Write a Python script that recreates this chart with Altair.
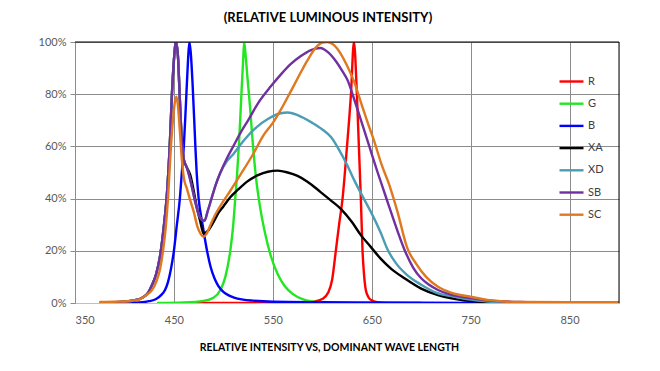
import altair as alt
import pandas as pd

series_names = ["R", "G", "B", "XA", "XD", "SB", "SC"]
series_colors = ["#FF0000", "#22E622", "#0000FF", "#000000", "#4A9DB5", "#7030A0", "#E07820"]
series_widths = [2.4, 2.4, 2.4, 2.6, 2.8, 3.0, 3.0]

x_ticks = [350, 450, 550, 650, 750, 850]
y_ticks = [0, 20, 40, 60, 80, 100]

r_wl = [470, 580, 591, 600, 606, 610, 613.7, 617, 620.5, 625, 629, 632, 635, 637, 639, 640.7, 642, 644, 647, 650, 656, 665, 700]
r_val = [0, 0.1, 0.5, 1.5, 4, 9, 20, 30, 40, 60, 80, 100, 80, 60, 40, 20, 12, 5, 2, 1, 0.3, 0, 0]

g_wl = [433, 460, 480, 490, 497, 502, 507, 510, 512, 514, 515.6, 517, 518.5, 520, 521, 522.5, 524, 527, 530, 533, 537, 542, 548, 555, 562, 570, 580, 590, 600, 620]
g_val = [0, 0.2, 0.8, 2, 5, 10, 20, 30, 40, 50, 60, 70, 82, 93, 100, 95, 88, 75, 60, 48, 37, 27, 18, 11, 6.5, 3.5, 1.5, 0.6, 0.2, 0]

b_wl = [400, 415, 425, 432, 437, 441, 444, 447, 450, 453, 456, 458, 460, 462, 464, 465.6, 467, 469, 471.7, 473, 475, 479, 483.5, 487, 491, 495, 500, 505, 510, 520, 530, 550, 600, 700, 800]
b_val = [0, 0.2, 0.7, 1.5, 3, 5, 8, 13, 20, 30, 40, 50, 60, 75, 91, 100, 96, 83, 60, 50, 40, 30, 20, 14, 9.5, 6.5, 4.3, 3, 2.2, 1.3, 0.9, 0.5, 0.3, 0.1, 0]

xa_wl = [375, 390, 400, 410, 418, 424, 428, 432, 436, 440, 443, 446, 448, 450, 452, 454, 456, 458, 460, 463, 466.6, 470, 473, 476.8, 480, 484, 490, 495, 500, 507, 515, 524, 535, 545, 555, 565, 575, 585, 598, 608, 619, 630, 639, 649, 659, 670, 683, 700, 717, 735, 750, 770, 800, 900]
xa_val = [0.2, 0.3, 0.5, 1, 2, 4, 7, 11, 18, 30, 42, 62, 80, 93, 100, 95, 78, 62, 55, 52, 49, 43, 37, 31, 26.6, 27.5, 31, 34.5, 37, 40.5, 43.5, 46.5, 49, 50.3, 50.7, 50, 48.7, 46.5, 42.6, 39.5, 36, 31, 26, 21.5, 17, 13, 9.5, 5.5, 3, 1.5, 0.7, 0.3, 0.1, 0]

xd_wl = [375, 390, 400, 410, 418, 424, 428, 432, 436, 440, 443, 446, 448, 450, 452, 454, 456, 458, 460, 463, 466, 469, 472, 475, 478, 481, 484, 488, 492, 497, 503, 510, 520, 534, 545, 558, 565, 575, 590, 600, 609, 618, 625, 633, 642, 649, 659, 666, 675, 685, 700, 715, 734, 750, 767, 800, 850, 900]
xd_val = [0.2, 0.3, 0.5, 1, 2, 4, 7, 11, 18, 30, 42, 62, 80, 93, 100, 95, 78, 62, 55, 52, 48, 43, 38, 34, 32, 31.5, 35, 40, 45, 50, 54, 57, 62, 67.5, 70.5, 72.7, 73, 72, 69, 66.5, 63.5, 58, 53, 46.5, 40, 35, 27, 20.5, 15, 11, 7, 4, 2.4, 1.3, 0.6, 0.3, 0.1, 0]

sb_wl = [375, 390, 400, 410, 418, 424, 428, 432, 436, 440, 443, 446, 448, 450, 452, 454, 456, 458, 460, 463, 466, 469, 472, 475, 478, 481, 484, 488, 492, 497, 503, 510, 517, 525, 535, 548, 558, 568, 578, 588, 598, 606, 614, 620, 626, 631, 640, 648, 656, 664, 672, 683, 692, 700, 708, 717, 730, 750, 767, 784, 800, 850, 900]
sb_val = [0.2, 0.3, 0.5, 1, 2, 4, 7, 11, 18, 30, 42, 62, 80, 93, 100, 95, 78, 62, 55, 52, 48, 43, 38, 34, 32, 31.5, 35, 40, 45, 50, 55, 60, 65, 70, 76.5, 83, 87.5, 91.5, 94.5, 96.8, 97.7, 96, 92.5, 89, 85, 79.5, 69, 59.5, 50, 41, 32, 20.5, 13.5, 9.5, 7, 5, 3.2, 1.9, 1, 0.6, 0.4, 0.2, 0.1]

sc_wl = [375, 390, 400, 410, 416, 422, 428, 432, 436, 439, 442, 444, 447, 449, 451, 452.5, 454, 456, 458, 460, 463, 466, 470, 474, 477, 480, 483, 487, 492, 500, 507, 517, 530, 541, 550, 558, 568, 575, 585, 595, 600, 605, 610, 615, 625, 632, 639, 646, 652.5, 660, 668, 676, 686, 695, 705, 717, 730, 750, 767, 784, 800, 850, 900]
sc_val = [0.4, 0.5, 0.6, 1, 1.5, 3, 5, 8, 13, 20, 30, 40, 60, 70, 77, 79, 76, 66, 55, 48, 44, 40, 35, 29, 26.5, 25.4, 26.5, 30, 34, 39, 43, 49, 57, 64.5, 69, 74, 81, 86, 93, 98.5, 99.8, 100, 99.3, 97.5, 91, 85, 77, 69, 62, 53, 45, 35, 21, 15, 10, 6.2, 4, 2.4, 1.2, 0.6, 0.4, 0.3, 0.3]

all_wl = [r_wl, g_wl, b_wl, xa_wl, xd_wl, sb_wl, sc_wl]
all_val = [r_val, g_val, b_val, xa_val, xd_val, sb_val, sc_val]

rows = []
for order, (name, wl, val) in enumerate(zip(series_names, all_wl, all_val)):
    for w, v in zip(wl, val):
        rows.append({"series": name, "order": order, "wl": w, "val": v})
df = pd.DataFrame(rows)

font = "Lato"

xscale = alt.Scale(domain=[350, 900], nice=False, zero=False)
yscale = alt.Scale(domain=[0, 100], nice=False)

lines = alt.Chart(df).mark_line(interpolate="monotone", clip=True).encode(
    x=alt.X("wl:Q", scale=xscale,
            axis=alt.Axis(values=x_ticks, title="RELATIVE INTENSITY  VS, DOMINANT WAVE LENGTH",
                          titleX=254, titleY=44, titleBaseline="middle",
                          titleFont=font, titleFontSize=10.5, titleFontWeight="bold", titleColor="#000000",
                          labelFont=font, labelFontSize=11, labelColor="#595959", labelPadding=11,
                          ticks=False, domainColor="#A9C4E4", domainWidth=1,
                          grid=True, gridColor="#8C8C8C", gridWidth=1)),
    y=alt.Y("val:Q", scale=yscale,
            axis=alt.Axis(values=y_ticks, title=None, labelExpr="datum.value + '%'",
                          labelFont=font, labelFontSize=11, labelColor="#595959", labelPadding=4,
                          ticks=True, tickSize=5, tickColor="#8C8C8C",
                          domainColor="#8C8C8C", grid=True, gridColor="#8C8C8C", gridWidth=1)),
    color=alt.Color("series:N",
                    scale=alt.Scale(domain=series_names, range=series_colors),
                    sort=series_names,
                    legend=alt.Legend(title=None, orient="none", legendX=483, legendY=26,
                                      symbolType="stroke", symbolSize=576, symbolStrokeWidth=3,
                                      labelFont=font, labelFontSize=11, labelColor="#404040",
                                      labelOffset=3, rowPadding=3.2, padding=0)),
    strokeWidth=alt.StrokeWidth("series:N", scale=alt.Scale(domain=series_names, range=series_widths), legend=None),
    order=alt.Order("order:Q"),
)

border_df = pd.DataFrame({"top": [100], "right": [900]})
top_rule = alt.Chart(border_df).mark_rule(color="#000000", strokeWidth=1).encode(y=alt.Y("top:Q", scale=yscale))
right_rule = alt.Chart(border_df).mark_rule(color="#000000", strokeWidth=1).encode(x=alt.X("right:Q", scale=xscale))

chart = alt.layer(lines, top_rule, right_rule).properties(
    width=544, height=261,
    autosize=alt.AutoSizeParams(type="none"),
    padding={"left": 67, "top": 34, "right": 25, "bottom": 50},
    title=alt.TitleParams("(RELATIVE LUMINOUS INTENSITY)", anchor="middle", frame="group",
                          dx=-19, offset=1, baseline="alphabetic",
                          font=font, fontSize=13, fontWeight="bold", color="#000000"),
).configure_view(stroke=None).configure(background="white")

chart.save("out.html", embed_options={"renderer": "svg", "actions": False})
